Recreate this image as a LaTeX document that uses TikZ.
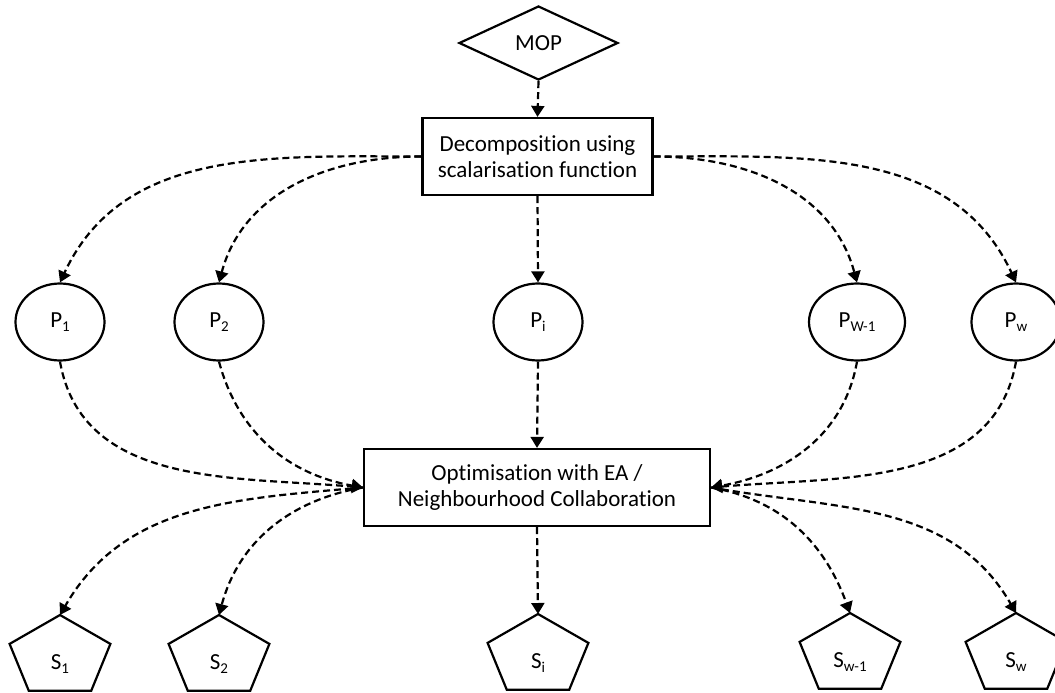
\documentclass[tikz,border=0pt]{standalone}
\usepackage{fontspec}
\setmainfont{Carlito}[Ligatures=NoCommon]
\usetikzlibrary{shapes.geometric,arrows.meta}

\tikzset{
  shapeline/.style={draw=black, line width=2.2pt, line join=miter},
  lbl/.style={font=\fontsize{23}{26}\selectfont, inner sep=0pt, align=center},
  stepbox/.style={shapeline, rectangle, lbl, minimum height=77pt},
  probnode/.style={shapeline, ellipse, lbl, minimum width=89pt, minimum height=77pt},
  decisionnode/.style={shapeline, diamond, lbl, minimum width=159pt, minimum height=74pt},
  flow/.style={line width=2.2pt, dash pattern=on 7pt off 4pt,
    -{Triangle[width=13pt,length=11pt]}},
}

% subscript as set in the labels
\newcommand\lowsub[1]{\raisebox{-0.3ex}{\fontsize{15}{15}\selectfont #1}}

% pentagon solution node: name of apex coordinate, x, y of apex, label
\newcommand\solnode[4]{%
  \coordinate (#1) at (#2,#3);
  \draw[shapeline] (#1) -- ++(50.4,28.9) -- ++(-19.2,46.9) -- ++(-62.4,0)
    -- ++(-19.2,-46.9) -- cycle;
  \node[lbl] (#1-label) at (#2,{#3+49}) {#4};
}

\begin{document}
\begin{tikzpicture}[x=1pt, y=-1pt]
\useasboundingbox (0,0) rectangle (1055,693);

% top of the flow
\node[decisionnode] (mop) at (538.5,43) {MOP};
\node[stepbox, minimum width=230pt] (dec) at (537.5,156.5)
  {Decomposition using\\scalarisation function};

% subproblems
\node[probnode] (p1) at (60,322) {P\lowsub{1}};
\node[probnode] (p2) at (219,322) {P\lowsub{2}};
\node[probnode] (pi) at (538,322) {P\lowsub{i}};
\node[probnode, minimum width=96pt] (pw1) at (857,322) {P\lowsub{W-1}};
\node[probnode] (pw) at (1016,322) {P\lowsub{w}};

% optimisation step
\node[stepbox, minimum width=346pt] (opt) at (537,487.5)
  {Optimisation with EA /\\Neighbourhood Collaboration};

% solutions
\solnode{s1}{60}{615}{S\lowsub{1}}
\solnode{s2}{219}{615}{S\lowsub{2}}
\solnode{si}{538}{614}{S\lowsub{i}}
\solnode{sw1}{850}{613}{S\lowsub{w-1}}
\solnode{sw}{1016}{613}{S\lowsub{w}}

% connectors
\draw[flow] (mop.south) -- (dec.north);

\draw[flow] (dec.west) to[out=180, in=65] (p1.north);
\draw[flow] (dec.west) to[out=180, in=75] (p2.north);
\draw[flow] (dec.south) -- (pi.north);
\draw[flow] (dec.east) to[out=0, in=105] (pw1.north);
\draw[flow] (dec.east) to[out=0, in=115] (pw.north);

\draw[flow] (p1.south) to[out=-80, in=175] (opt.west);
\draw[flow] (p2.south) to[out=-75, in=170] (opt.west);
\draw[flow] (pi.south) -- (opt.north);
\draw[flow] (pw1.south) to[out=-100, in=10] (opt.east);
\draw[flow] (pw.south) to[out=-100, in=5] (opt.east);

\draw[flow] (opt.west) to[out=185, in=60] (s1);
\draw[flow] (opt.west) to[out=190, in=75] (s2);
\draw[flow] (opt.south) -- (si);
\draw[flow] (opt.east) to[out=-10, in=110] (sw1);
\draw[flow] (opt.east) to[out=-10, in=120] (sw);
\end{tikzpicture}
\end{document}
